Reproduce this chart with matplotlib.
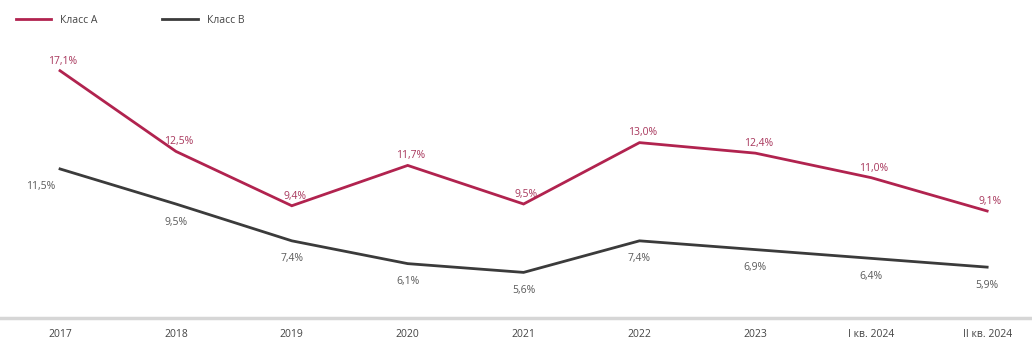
import matplotlib
matplotlib.use("Agg")
import matplotlib.pyplot as plt
from matplotlib.lines import Line2D

periods = ["2017", "2018", "2019", "2020", "2021", "2022", "2023", "I кв. 2024", "II кв. 2024"]
class_a = [17.1, 12.5, 9.4, 11.7, 9.5, 13.0, 12.4, 11.0, 9.1]
class_b = [11.5, 9.5, 7.4, 6.1, 5.6, 7.4, 6.9, 6.4, 5.9]
series_names = ["Класс А", "Класс В"]

color_a = "#b1234f"
color_b = "#3b3b3b"
text_a = "#a8375c"
text_b = "#5a5a5a"

plt.rcParams["font.family"] = ["Open Sans", "DejaVu Sans"]

fig = plt.figure(figsize=(10.32, 3.44), dpi=100)
ax = fig.add_axes([0.0, 0.0756, 1.0, 0.78])

x = list(range(len(periods)))
ax.plot(x, class_a, color=color_a, lw=2.0, solid_joinstyle="miter")
ax.plot(x, class_b, color=color_b, lw=2.0, solid_joinstyle="miter")

def fmt(v):
    return f"{v:.1f}%".replace(".", ",")

for i, v in enumerate(class_a):
    ax.annotate(fmt(v), (i, v), xytext=(2, 3), textcoords="offset points",
                ha="center", va="bottom", fontsize=7.5, color=text_a)
for i, v in enumerate(class_b):
    dx = -14 if i == 0 else 0
    ax.annotate(fmt(v), (i, v), xytext=(dx, -9), textcoords="offset points",
                ha="center", va="top", fontsize=7.5, color=text_b)

ax.set_xlim(-0.518, 8.387)
ax.set_ylim(3.0, 18.3)
ax.set_xticks(x)
ax.set_xticklabels(periods, fontsize=7.5, color="#444444")
ax.tick_params(axis="x", length=0, pad=8)
ax.set_yticks([])
for s in ["top", "left", "right"]:
    ax.spines[s].set_visible(False)
ax.spines["bottom"].set_color("#d6d6d6")
ax.spines["bottom"].set_linewidth(2.5)

handles = [Line2D([0], [0], color=color_a, lw=2.0),
           Line2D([0], [0], color=color_b, lw=2.0)]
fig.legend(handles, series_names, loc="upper left", bbox_to_anchor=(0.006, 0.985),
           ncol=2, frameon=False, fontsize=7.5, handlelength=3.4,
           columnspacing=6.2, handletextpad=0.9,
           labelcolor="#444444")

fig.savefig("out.png", dpi=100, facecolor="white")
